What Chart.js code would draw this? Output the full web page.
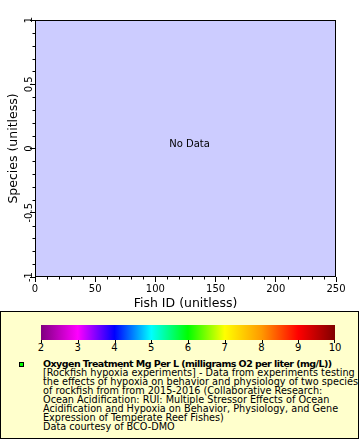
<!DOCTYPE html>
<html>
<head>
<meta charset="utf-8">
<script src="https://cdn.jsdelivr.net/npm/chart.js@4.4.1/dist/chart.umd.min.js"></script>
<style>
  body { margin: 0; background: #fff; font-family: "DejaVu Sans", sans-serif; }
  #wrap { position: relative; width: 360px; height: 440px; overflow: hidden; }
  #plot { position: absolute; left: 0; top: 0; }
  #legend { position: absolute; left: 0; top: 311px; width: 359px; height: 128px; box-sizing: border-box; border: 1px solid #000; background: #ffffcc; }
  #cbar { position: absolute; left: 41px; top: 325px; width: 294px; height: 15px; }
  .ctick { position: absolute; top: 340px; width: 1px; height: 3px; background: #000; }
  .clabel { position: absolute; top: 343px; width: 30px; margin-left: -15px; text-align: center; font-size: 10px; line-height: 10px; color: #000; }
  #marker { position: absolute; left: 19px; top: 362px; width: 5px; height: 5px; box-sizing: border-box; border: 1px solid #000; background: #00ff00; }
  #ltext { position: absolute; left: 43px; top: 359px; font-size: 9.7px; line-height: 9px; color: #000; white-space: nowrap; }
  #ltext .title { font-weight: bold; font-size: 9.5px; letter-spacing: -0.55px; }
</style>
</head>
<body>
<div id="wrap">
  <canvas id="plot" width="360" height="310"></canvas>
  <div id="legend"></div>
  <div id="cbar"></div>
  <div id="marker"></div>
  <div id="ltext"></div>
</div>
<script>
// data: the dataset is empty, so the plot shows "No Data"
const fishIds = [];
const speciesValues = [];
const oxygenValues = [];

const xTickValues = [0, 50, 100, 150, 200, 250];
const yTickValues = [-1, -0.5, 0, 0.5, 1];
const colorbarTicks = [2, 3, 4, 5, 6, 7, 8, 9, 10];
const colorbarColors = ['#800080', '#ff00ff', '#0000ff', '#00ffff', '#00ff00', '#ffff00', '#ff9900', '#ff0000', '#800000'];

const legendTitle = 'Oxygen Treatment Mg Per L (milligrams O2 per liter (mg/L))';
const legendLines = [
  '[Rockfish hypoxia experiments] - Data from experiments testing',
  'the effects of hypoxia on behavior and physiology of two species',
  'of rockfish from from 2015-2016 (Collaborative Research:',
  'Ocean Acidification: RUI: Multiple Stressor Effects of Ocean',
  'Acidification and Hypoxia on Behavior, Physiology, and Gene',
  'Expression of Temperate Reef Fishes)',
  'Data courtesy of BCO-DMO'
];

Chart.defaults.font.family = '"DejaVu Sans", sans-serif';
Chart.defaults.color = '#000';

const near = (v, list) => list.some(t => Math.abs(v - t) < 1e-6);

// plot background, frame, minor ticks, rotated y labels, "No Data"
const plotFrame = {
  id: 'plotFrame',
  beforeDraw(chart) {
    const { ctx, chartArea: a } = chart;
    ctx.save();
    ctx.fillStyle = '#ccccff';
    ctx.fillRect(a.left, a.top, a.right - a.left, a.bottom - a.top);
    ctx.restore();
  },
  afterDraw(chart) {
    const { ctx, chartArea: a, scales: { x, y } } = chart;
    ctx.save();
    ctx.strokeStyle = '#000';
    ctx.lineWidth = 1;
    ctx.beginPath();
    x.ticks.forEach(t => {
      if (near(t.value, xTickValues)) return;
      const px = Math.round(x.getPixelForValue(t.value)) + 0.5;
      ctx.moveTo(px, a.bottom);
      ctx.lineTo(px, a.bottom + 2.5);
    });
    y.ticks.forEach(t => {
      if (near(t.value, yTickValues)) return;
      const py = Math.round(y.getPixelForValue(t.value)) + 0.5;
      ctx.moveTo(a.left, py);
      ctx.lineTo(a.left - 2.5, py);
    });
    ctx.stroke();
    ctx.strokeRect(a.left + 0.5, a.top + 0.5, a.right - a.left - 1, a.bottom - a.top - 1);

    ctx.fillStyle = '#000';
    ctx.font = '10px "DejaVu Sans"';
    ctx.textAlign = 'center';
    ctx.textBaseline = 'alphabetic';
    yTickValues.forEach(v => {
      const py = y.getPixelForValue(v);
      ctx.save();
      ctx.translate(a.left - 3.5, py);
      ctx.rotate(-Math.PI / 2);
      ctx.fillText(String(v), 0, 0);
      ctx.restore();
    });

    if (speciesValues.length === 0) {
      ctx.textBaseline = 'middle';
      ctx.fillText('No Data', (a.left + a.right) / 2 + 4, (a.top + a.bottom) / 2 - 4);
    }
    ctx.restore();
  }
};

const points = fishIds.map((id, i) => ({ x: id, y: speciesValues[i] }));

new Chart(document.getElementById('plot'), {
  type: 'scatter',
  data: {
    datasets: [{
      label: legendTitle,
      data: points,
      pointRadius: 2,
      pointBackgroundColor: '#00ff00'
    }]
  },
  options: {
    responsive: false,
    animation: false,
    layout: { padding: { top: 20, right: 24, left: 0, bottom: 0 } },
    plugins: { legend: { display: false }, tooltip: { enabled: false } },
    scales: {
      x: {
        type: 'linear',
        min: 0,
        max: 250,
        border: { display: false },
        grid: {
          drawOnChartArea: false,
          tickLength: 5,
          tickColor: c => near(c.tick.value, xTickValues) ? '#000' : 'rgba(0,0,0,0)'
        },
        ticks: {
          stepSize: 10,
          autoSkip: false,
          maxRotation: 0,
          padding: 1,
          font: { size: 10 },
          callback: v => near(v, xTickValues) ? String(v) : ''
        },
        title: {
          display: true,
          text: 'Fish ID (unitless)',
          font: { size: 12.5, lineHeight: 1 },
          padding: { top: 0, bottom: 0 }
        },
        afterFit: s => { s.height = 33; }
      },
      y: {
        type: 'linear',
        min: -1,
        max: 1,
        border: { display: false },
        grid: {
          drawOnChartArea: false,
          tickLength: 5,
          tickColor: c => near(c.tick.value, yTickValues) ? '#000' : 'rgba(0,0,0,0)'
        },
        ticks: { stepSize: 0.1, autoSkip: false, display: false },
        title: {
          display: true,
          text: 'Species (unitless)',
          font: { size: 12.5, lineHeight: 1 },
          padding: { top: 7, bottom: 0 }
        },
        afterFit: s => { s.width = 35; }
      }
    }
  },
  plugins: [plotFrame]
});

// colour bar legend
const cbar = document.getElementById('cbar');
const wrap = document.getElementById('wrap');
const span = colorbarTicks[colorbarTicks.length - 1] - colorbarTicks[0];
cbar.style.background = 'linear-gradient(to right, ' + colorbarColors.map((c, i) =>
  c + ' ' + ((colorbarTicks[i] - colorbarTicks[0]) / span * 100) + '%').join(', ') + ')';
colorbarTicks.forEach(v => {
  const px = 41 + (v - colorbarTicks[0]) / span * 294;
  const tick = document.createElement('div');
  tick.className = 'ctick';
  tick.style.left = Math.min(Math.round(px), 334) + 'px';
  wrap.appendChild(tick);
  const lab = document.createElement('div');
  lab.className = 'clabel';
  lab.style.left = px + 'px';
  lab.textContent = v;
  wrap.appendChild(lab);
});

const ltext = document.getElementById('ltext');
const t = document.createElement('div');
t.className = 'title';
t.textContent = legendTitle;
ltext.appendChild(t);
legendLines.forEach(line => {
  const d = document.createElement('div');
  d.textContent = line;
  ltext.appendChild(d);
});
</script>
</body>
</html>
